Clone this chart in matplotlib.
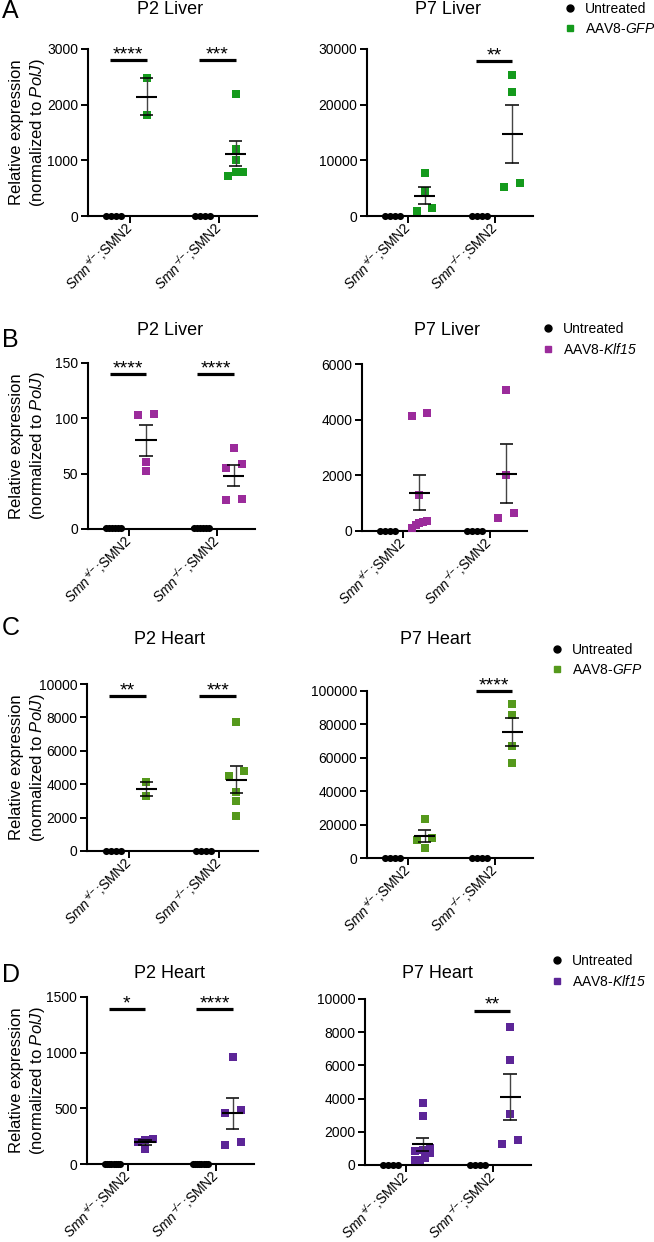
import numpy as np
import matplotlib.pyplot as plt
from matplotlib.lines import Line2D

plt.rcParams['font.family'] = ['Liberation Sans', 'DejaVu Sans']
# every math chunk in this figure is a gene/genotype name -> all italic
plt.rcParams['mathtext.fontset'] = 'custom'
plt.rcParams['mathtext.rm'] = 'Liberation Sans:italic'
plt.rcParams['mathtext.it'] = 'Liberation Sans:italic'

W, H = 654, 1242

genotypes = [r"$Smn^{+\!/\!-}$;SMN2", r"$Smn^{-\!/\!-}$;SMN2"]

# A - AAV8-GFP, liver
p2_liver_gfp_ctrl = [[0, 0, 0, 0], [0, 0, 0, 0]]
p2_liver_gfp_aav = [[2478, 1806], [2184, 1212, 1014, 726, 798, 798]]
p7_liver_gfp_ctrl = [[0, 0, 0, 0], [0, 0, 0, 0]]
p7_liver_gfp_aav = [[7680, 4560, 960, 1440], [25380, 22200, 5280, 6000]]

# B - AAV8-Klf15, liver
p2_liver_klf_ctrl = [[1.0, 0.8, 1.2, 0.9, 1.1, 1.0], [1.1, 0.9, 1.3, 1.0, 0.8, 1.2]]
p2_liver_klf_aav = [[102.6, 104.1, 60.4, 52.8], [73.3, 55.5, 58.5, 26.3, 27.5]]
p7_liver_klf_ctrl = [[1, 1, 1, 1], [1, 1, 1, 1]]
p7_liver_klf_aav = [[4255, 4135, 1310, 350, 330, 280, 200, 100], [5060, 2020, 480, 650]]

# C - AAV8-GFP, heart
p2_heart_gfp_ctrl = [[0, 0, 0, 0], [0, 0, 0, 0]]
p2_heart_gfp_aav = [[4160, 3320], [7740, 4780, 4480, 3540, 2980, 2100]]
p7_heart_gfp_ctrl = [[0, 0, 0, 0], [0, 0, 0, 0]]
p7_heart_gfp_aav = [[23200, 12200, 10600, 6000], [92200, 85600, 67000, 56600]]

# D - AAV8-Klf15, heart
p2_heart_klf_ctrl = [[1, 1, 1, 1, 1, 1, 1, 1], [1, 1, 1, 1, 1, 1, 1, 1]]
p2_heart_klf_aav = [[225, 201, 216, 132], [960, 456, 486, 174, 195]]
p7_heart_klf_ctrl = [[1, 1, 1, 1], [1, 1, 1, 1]]
p7_heart_klf_aav = [[3740, 2960, 1000, 900, 850, 700, 400, 300, 310], [8300, 6340, 3100, 1240, 1500]]

GREEN_A = '#149a1c'
PURPLE_B = '#9b2b9b'
GREEN_C = '#55991c'
PURPLE_D = '#5c2597'

rows = [
    dict(letter='A', letter_y=11, color=GREEN_A, treat=r"AAV8-$GFP$",
         legend=(563, 2), panels=[
             dict(rect=(88, 49, 257, 216), ymax=3000, step=1000, title='P2 Liver', tpos=(170, 9),
                  ctrl=p2_liver_gfp_ctrl, aav=p2_liver_gfp_aav, stars=['****', '***'], sig_y=2800, ylabel=True),
             dict(rect=(367, 49, 533, 216), ymax=30000, step=10000, title='P7 Liver', tpos=(448, 9),
                  ctrl=p7_liver_gfp_ctrl, aav=p7_liver_gfp_aav, stars=[None, '**'], sig_y=27900, ylabel=False),
         ]),
    dict(letter='B', letter_y=340, color=PURPLE_B, treat=r"AAV8-$Klf15$",
         legend=(541, 322), panels=[
             dict(rect=(88, 363, 255, 529), ymax=150, step=50, title='P2 Liver', tpos=(170, 330),
                  ctrl=p2_liver_klf_ctrl, aav=p2_liver_klf_aav, stars=['****', '****'], sig_y=140, ylabel=True),
             dict(rect=(362, 364, 527, 531), ymax=6000, step=2000, title='P7 Liver', tpos=(447, 330),
                  ctrl=p7_liver_klf_ctrl, aav=p7_liver_klf_aav, stars=[None, None], sig_y=None, ylabel=False),
         ]),
    dict(letter='C', letter_y=628, color=GREEN_C, treat=r"AAV8-$GFP$",
         legend=(550, 643), panels=[
             dict(rect=(87, 684, 258, 851), ymax=10000, step=2000, title='P2 Heart', tpos=(170, 640),
                  ctrl=p2_heart_gfp_ctrl, aav=p2_heart_gfp_aav, stars=['**', '***'], sig_y=9260, ylabel=True),
             dict(rect=(367, 691, 533, 858), ymax=100000, step=20000, title='P7 Heart', tpos=(435, 640),
                  ctrl=p7_heart_gfp_ctrl, aav=p7_heart_gfp_aav, stars=[None, '****'], sig_y=100000, ylabel=False),
         ]),
    dict(letter='D', letter_y=975, color=PURPLE_D, treat=r"AAV8-$Klf15$",
         legend=(550, 954), panels=[
             dict(rect=(87, 997, 254, 1164), ymax=1500, step=500, title='P2 Heart', tpos=(170, 974),
                  ctrl=p2_heart_klf_ctrl, aav=p2_heart_klf_aav, stars=['*', '****'], sig_y=1390, ylabel=True),
             dict(rect=(365, 999, 531, 1165), ymax=10000, step=2000, title='P7 Heart', tpos=(437, 974),
                  ctrl=p7_heart_klf_ctrl, aav=p7_heart_klf_aav, stars=[None, '**'], sig_y=9300, ylabel=False),
         ]),
]

X_LIM = (-0.47, 1.43)
OFF_CTRL, OFF_AAV = -0.18, 0.19
MARK_PX = 7.0


def swarm(vals, y_px, x_px):
    # spread near-equal values sideways, prism style
    vals = np.asarray(vals, dtype=float)
    step = MARK_PX * 1.1 / x_px
    maxw = 15.0 / x_px
    order = np.argsort(vals, kind='stable')
    bins = []
    for i in order:
        if bins and (vals[i] - vals[bins[-1][0]]) * y_px < MARK_PX:
            bins[-1].append(i)
        else:
            bins.append([i])
    offs = np.zeros(len(vals))
    for b in bins:
        n = len(b)
        if n == 2:
            pos = [-step, step]
        else:
            s = min(step, maxw / max(n - 1, 1))
            pos = [(k - (n - 1) / 2) * s for k in range(n)]
        for k, i in enumerate(b):
            offs[i] = pos[k]
    return offs


def mean_sem(ax, x, vals):
    vals = np.asarray(vals, dtype=float)
    m = vals.mean()
    sem = vals.std(ddof=1) / np.sqrt(len(vals))
    ax.vlines(x, m - sem, m + sem, color='#444444', lw=1.0, zorder=4, clip_on=False)
    ax.hlines([m - sem, m + sem], x - 0.075, x + 0.075, color='black', lw=1.1, zorder=4, clip_on=False)
    ax.hlines(m, x - 0.12, x + 0.12, color='black', lw=1.5, zorder=5, clip_on=False)


fig = plt.figure(figsize=(W / 100, H / 100), dpi=100)

for row in rows:
    fig.text(2 / W, 1 - row['letter_y'] / H, row['letter'], fontsize=18, ha='left', va='center')
    for p in row['panels']:
        l, t, r, b = p['rect']
        ax = fig.add_axes([l / W, 1 - b / H, (r - l) / W, (b - t) / H])
        x_px = (r - l) / (X_LIM[1] - X_LIM[0])
        y_px = (b - t) / p['ymax']

        for g in range(2):
            xc = g + OFF_CTRL
            xa = g + OFF_AAV
            ctrl = p['ctrl'][g]
            aav = p['aav'][g]
            ax.scatter(xc + swarm(ctrl, y_px, x_px), ctrl, s=26, marker='o', color='black',
                       linewidths=0, zorder=3, clip_on=False)
            ax.scatter(xa + swarm(aav, y_px, x_px), aav, s=26, marker='s', color=row['color'],
                       linewidths=0, zorder=3, clip_on=False)
            mean_sem(ax, xc, ctrl)
            mean_sem(ax, xa, aav)
            if p['stars'][g]:
                ax.plot([xc - 0.045, xa], [p['sig_y'], p['sig_y']], color='black', lw=2.3,
                        solid_capstyle='butt', clip_on=False)
                ax.annotate(p['stars'][g], ((xc - 0.045 + xa) / 2, p['sig_y']), xytext=(0, 0.5),
                            textcoords='offset points', ha='center', va='baseline', fontsize=14)

        ax.set_xlim(*X_LIM)
        ax.set_ylim(0, p['ymax'])
        ax.set_yticks(np.arange(0, p['ymax'] + 1, p['step']))
        ax.set_xticks([0, 1])
        ax.set_xticklabels(genotypes, rotation=45, ha='right', va='center',
                           rotation_mode='anchor', fontsize=9.3)
        for s in ['top', 'right']:
            ax.spines[s].set_visible(False)
        for s in ['left', 'bottom']:
            ax.spines[s].set_linewidth(1.5)
        ax.tick_params(direction='out', length=5, width=1.4, labelsize=10, pad=2)
        ax.tick_params(axis='x', pad=1.5)
        if p['ylabel']:
            ax.set_ylabel('Relative expression\n(normalized to $PolJ$)', fontsize=12,
                          linespacing=1.25)
            ax.yaxis.set_label_coords((47 - l) / (r - l), 0.5)
        fig.text(p['tpos'][0] / W, 1 - p['tpos'][1] / H, p['title'], fontsize=13,
                 ha='center', va='center')

    handles = [Line2D([], [], ls='none', marker='o', color='black', markersize=5),
               Line2D([], [], ls='none', marker='s', color=row['color'], markersize=5)]
    lx, ly = row['legend']
    fig.legend(handles, ['Untreated', row['treat']], loc='upper left',
               bbox_to_anchor=(lx / W, 1 - ly / H), frameon=False, fontsize=10,
               handlelength=1.0, handletextpad=0.6, labelspacing=0.45, borderpad=0,
               borderaxespad=0)

fig.savefig('out.png', dpi=100)
